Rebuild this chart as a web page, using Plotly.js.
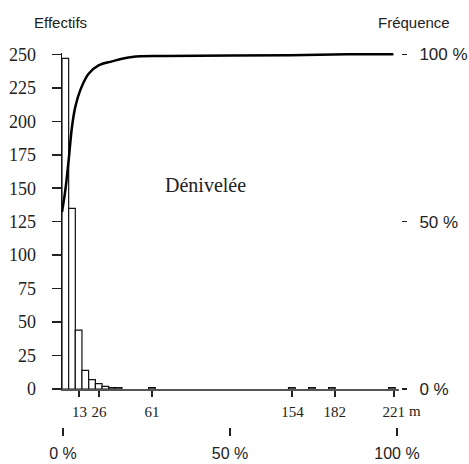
<!DOCTYPE html>
<html>
<head>
<meta charset="utf-8">
<script src="https://cdn.plot.ly/plotly-3.0.1.min.js"></script>
<style>html,body{margin:0;padding:0;background:#fff;}#chart{width:469px;height:464px;}</style>
</head>
<body>
<div id="chart"></div>
<script>
// Histogram bins (m), width 4.41 m
const binCenters = [3.7, 8.1, 12.5, 16.9, 21.4, 25.8, 30.2, 34.6, 39.0, 61.0, 153.6, 166.9, 180.1, 219.8];
const binCounts  = [247, 135, 44, 14, 7, 4, 2, 1, 1, 1, 1, 1, 1, 1];
const binWidth = 4.41;

// Cumulative frequency curve (%)
const cumX   = [1.5, 3.7, 5.9, 8.1, 10.3, 13.6, 19.1, 25.7, 34.6, 47.8, 69.9, 152.6, 192.3, 220.8];
const cumPct = [52.9, 59.4, 68.4, 78.3, 84.3, 89.3, 94.2, 96.7, 97.9, 99.2, 99.5, 99.7, 100, 100];

// Tick labels
const xTicks = [13, 26, 61, 154, 182, 221];
const leftTicks = [0, 25, 50, 75, 100, 125, 150, 175, 200, 225, 250];
const rightTickVals = [0, 50, 100];
const rightTickText = ['0 %', '50 %', '100 %'];
const bottomTickVals = [0, 50, 100];
const bottomTickText = ['0 %', '50 %', '100 %'];

const serif = 'Liberation Serif, Times New Roman, serif';
const sans = 'Liberation Sans, Arial, sans-serif';

const traces = [
  {
    type: 'bar', x: binCenters, y: binCounts, width: binCenters.map(() => binWidth),
    marker: {color: '#ffffff', line: {color: '#111', width: 1.2}},
    xaxis: 'x', yaxis: 'y', hoverinfo: 'skip'
  },
  {
    type: 'scatter', mode: 'lines', x: cumX, y: cumPct,
    line: {color: '#000', width: 2.5, shape: 'spline', smoothing: 1},
    xaxis: 'x', yaxis: 'y2', hoverinfo: 'skip'
  },
  {
    type: 'scatter', mode: 'markers', x: bottomTickVals, y: [null, null, null],
    marker: {opacity: 0}, xaxis: 'x2', yaxis: 'y', hoverinfo: 'skip'
  }
];

const plotTop = 52.7, yBottom = 389, paperBottom = 427;
const paperH = paperBottom - plotTop;

const layout = {
  width: 469, height: 464,
  margin: {l: 62, r: 68, t: plotTop, b: 464 - paperBottom, pad: 0},
  paper_bgcolor: '#fff', plot_bgcolor: '#fff',
  showlegend: false, bargap: 0,
  xaxis: {
    domain: [0, 337 / 339], range: [1.5, 224.5], anchor: 'y',
    tickmode: 'array', tickvals: xTicks, ticks: 'outside', ticklen: 6, tickwidth: 2, tickcolor: '#222',
    showline: true, linecolor: '#555', linewidth: 1.5, showgrid: false, zeroline: false,
    tickfont: {family: serif, size: 15, color: '#222'}, ticklabelstandoff: 2
  },
  xaxis2: {
    overlaying: 'x', anchor: 'free', position: 0, side: 'bottom',
    range: [-0.3, 100.6], tickmode: 'array', tickvals: bottomTickVals, ticktext: bottomTickText,
    ticks: 'outside', ticklen: 8, tickwidth: 2, tickcolor: '#222',
    showline: false, showgrid: false, zeroline: false,
    tickfont: {family: sans, size: 16, color: '#222'}, ticklabelstandoff: 4
  },
  yaxis: {
    domain: [(paperBottom - yBottom) / paperH, 1], range: [0, 251], anchor: 'x',
    tickmode: 'array', tickvals: leftTicks, ticks: 'outside', ticklen: 9, tickwidth: 1.5, tickcolor: '#222',
    showline: true, linecolor: '#111', linewidth: 1.5, showgrid: false, zeroline: false,
    tickfont: {family: serif, size: 18, color: '#222'}, ticklabelstandoff: 12
  },
  yaxis2: {
    overlaying: 'y', anchor: 'free', position: 1, side: 'right',
    range: [0, 100.4], tickmode: 'array', tickvals: rightTickVals, ticktext: rightTickText,
    ticks: 'outside', ticklen: 5, tickwidth: 1.5, tickcolor: '#222',
    showline: false, showgrid: false, zeroline: false,
    tickfont: {family: sans, size: 17, color: '#222'}, ticklabelstandoff: 9
  },
  annotations: [
    {text: 'Effectifs', xref: 'paper', yref: 'paper', x: (60 - 62) / 339, y: (paperBottom - 22) / paperH,
     xanchor: 'center', yanchor: 'middle', showarrow: false, font: {family: sans, size: 15, color: '#222'}},
    {text: 'Fréquence', xref: 'paper', yref: 'paper', x: (414 - 62) / 339, y: (paperBottom - 22) / paperH,
     xanchor: 'center', yanchor: 'middle', showarrow: false, font: {family: sans, size: 15, color: '#222'}},
    {text: 'Dénivelée', xref: 'paper', yref: 'paper', x: (205 - 62) / 339, y: (paperBottom - 185) / paperH,
     xanchor: 'center', yanchor: 'middle', showarrow: false, font: {family: serif, size: 20, color: '#222'}},
    {text: 'm', xref: 'paper', yref: 'paper', x: (415 - 62) / 339, y: (paperBottom - 411) / paperH,
     xanchor: 'center', yanchor: 'middle', showarrow: false, font: {family: serif, size: 15, color: '#222'}}
  ]
};

Plotly.newPlot('chart', traces, layout, {staticPlot: true, displayModeBar: false});
</script>
</body>
</html>
